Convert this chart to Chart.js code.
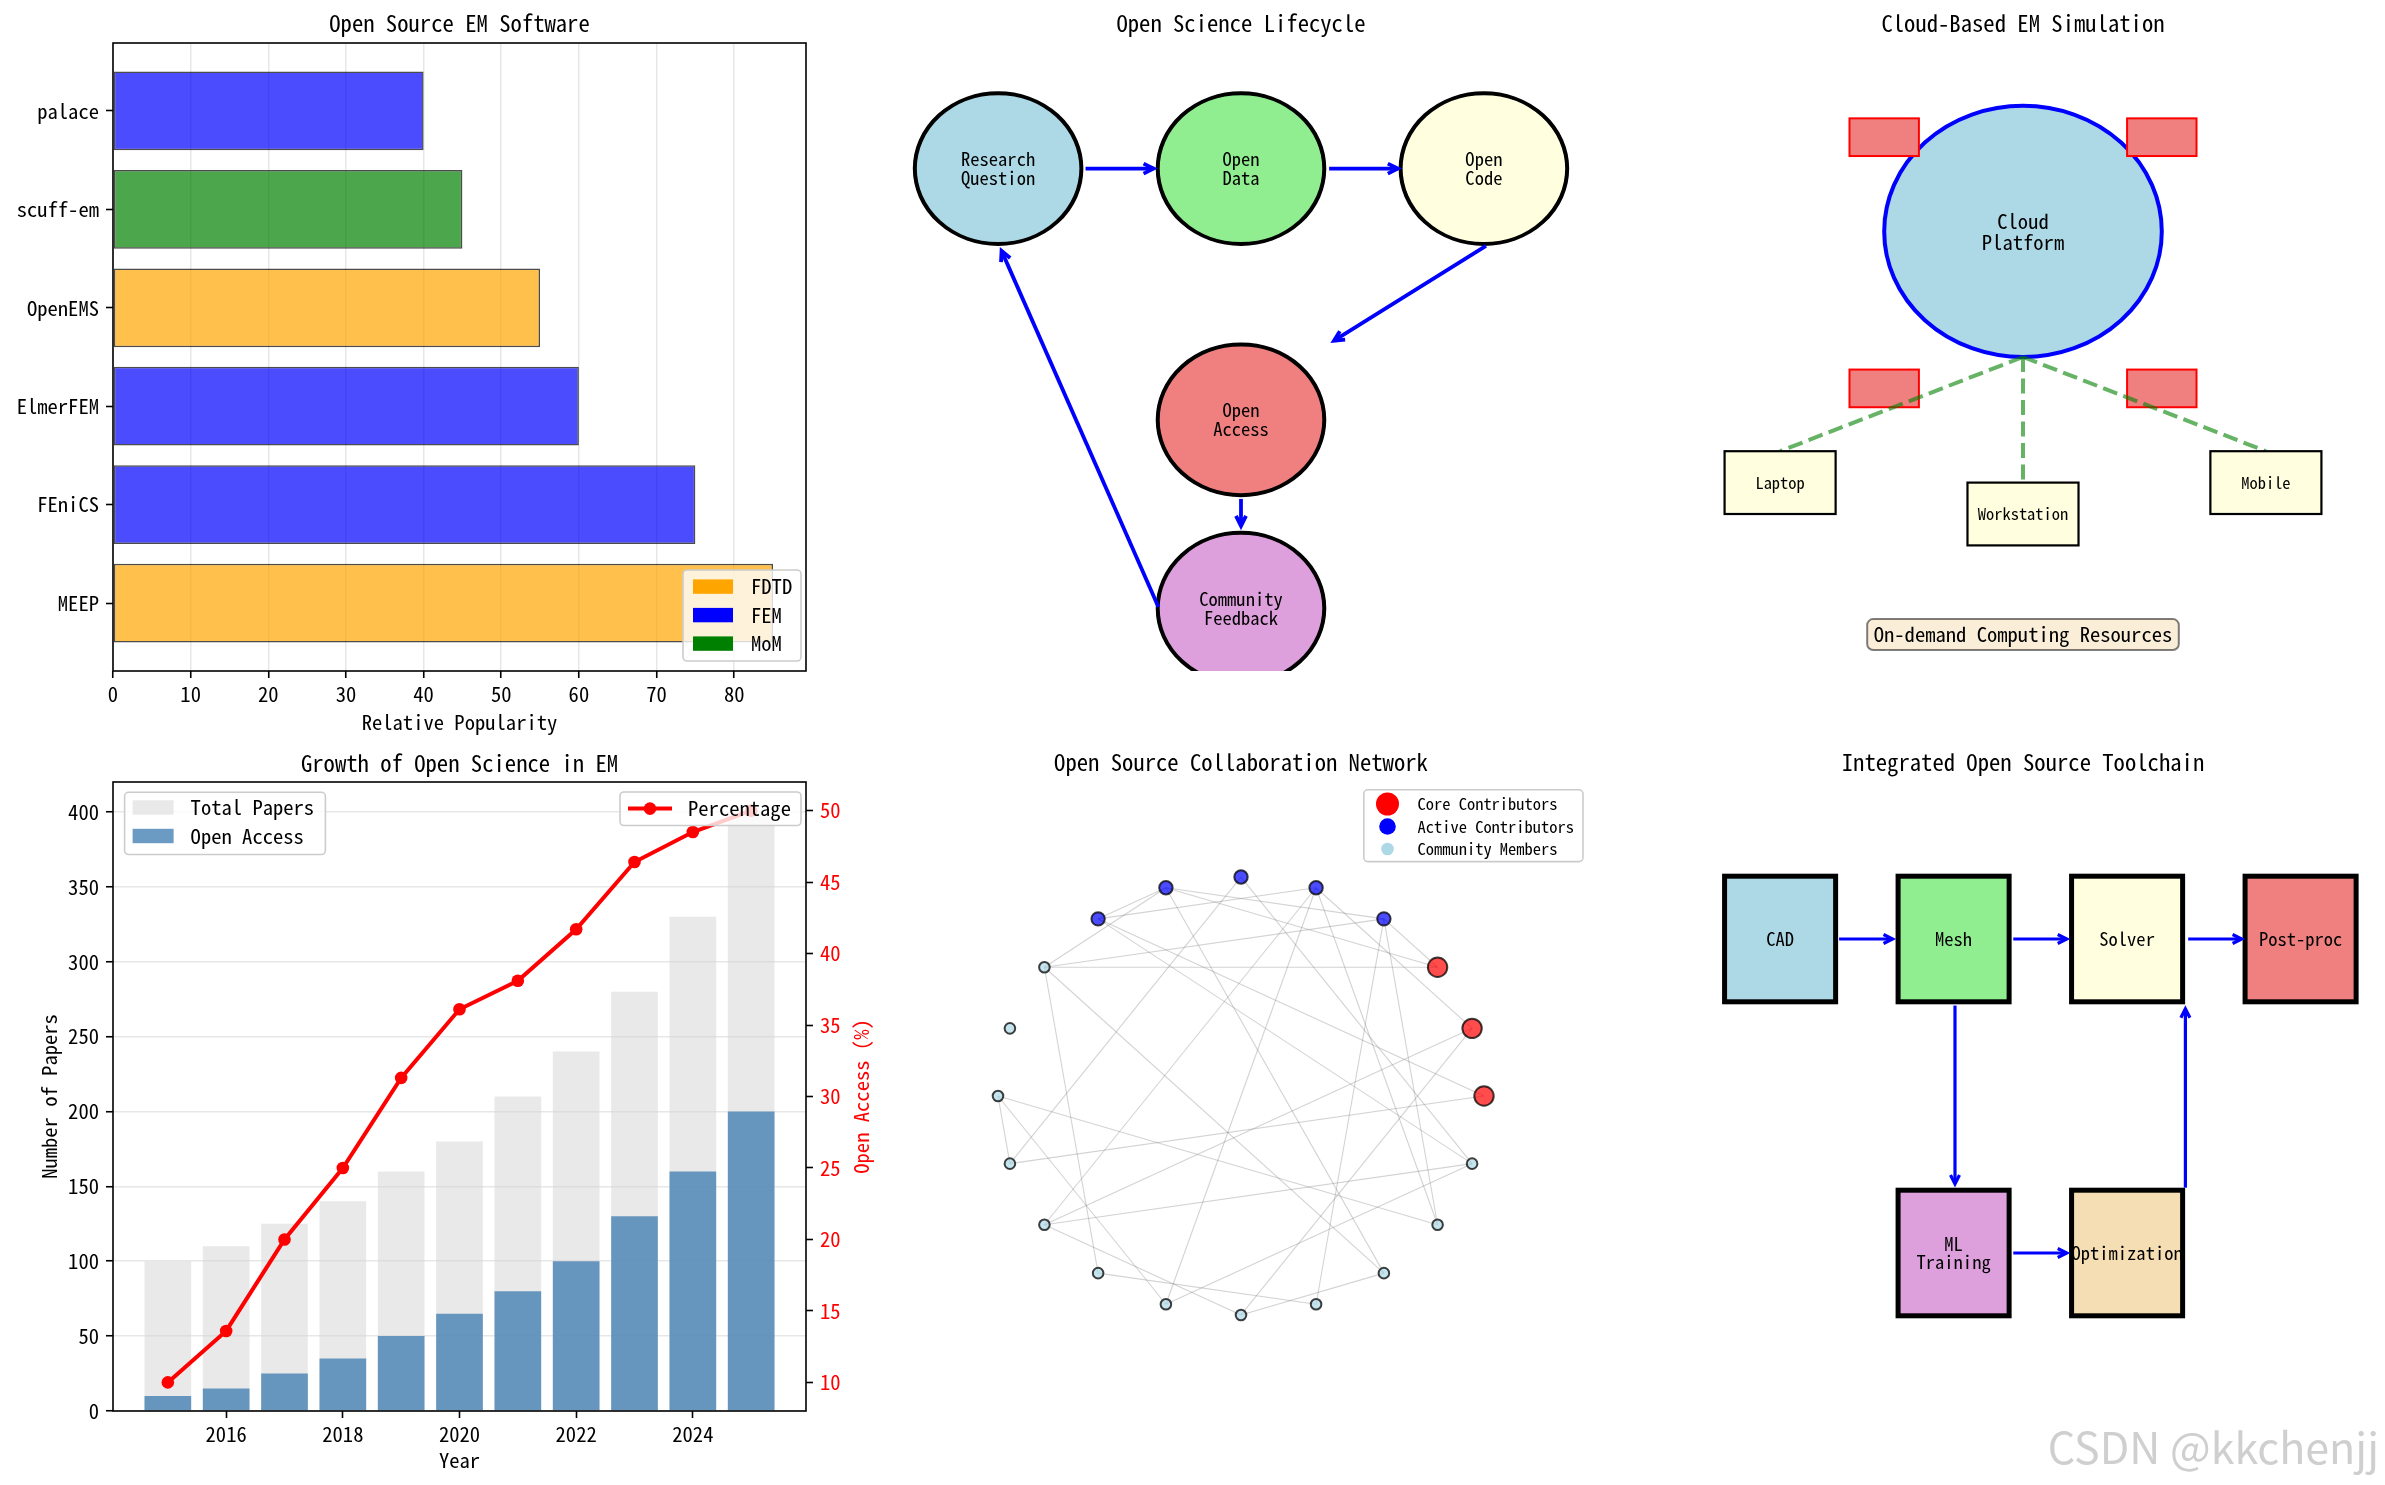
<!DOCTYPE html>
<html>
<head>
<meta charset="utf-8">
<script src="https://cdn.jsdelivr.net/npm/chart.js@4.4.1/dist/chart.umd.min.js"></script>
<style>
  html, body { margin: 0; padding: 0; background: #fff; }
  #page { position: relative; width: 2385px; height: 1485px; overflow: hidden; background: #fff; }
  canvas { position: absolute; }
  #wm { position: absolute; right: 6px; top: 1414px; font: 43px "Noto Sans CJK SC", "Noto Sans", sans-serif; color: #cfcfcf; }
</style>
</head>
<body>
<div id="page">
  <canvas id="cSoft"   style="left:0px;top:0px"      width="860" height="740"></canvas>
  <canvas id="cCycle"  style="left:860px;top:0px"    width="760" height="740"></canvas>
  <canvas id="cCloud"  style="left:1620px;top:0px"   width="765" height="740"></canvas>
  <canvas id="cGrowth" style="left:0px;top:740px"    width="900" height="745"></canvas>
  <canvas id="cNet"    style="left:860px;top:740px"  width="760" height="745"></canvas>
  <canvas id="cTools"  style="left:1620px;top:740px" width="765" height="745"></canvas>
  <div id="wm">CSDN @kkchenjj</div>
</div>
<script>
// ---------- data ----------
const SOFTWARE   = ['MEEP', 'FEniCS', 'ElmerFEM', 'OpenEMS', 'scuff-em', 'palace'];
const POPULARITY = [85, 75, 60, 55, 45, 40];
const SW_METHOD  = ['FDTD', 'FEM', 'FEM', 'FDTD', 'MoM', 'FEM'];
const METHODS    = ['FDTD', 'FEM', 'MoM'];
const POP_TICKS  = [0, 10, 20, 30, 40, 50, 60, 70, 80];

const YEARS        = [2015, 2016, 2017, 2018, 2019, 2020, 2021, 2022, 2023, 2024, 2025];
const TOTAL_PAPERS = [100, 110, 125, 140, 160, 180, 210, 240, 280, 330, 400];
const OPEN_ACCESS  = [10, 15, 25, 35, 50, 65, 80, 100, 130, 160, 200];
const OA_PERCENT   = [10.0, 13.6, 20.0, 25.0, 31.3, 36.1, 38.1, 41.7, 46.4, 48.5, 50.0];
const YEAR_TICKS   = [2016, 2018, 2020, 2022, 2024];
const PAPER_TICKS  = [0, 50, 100, 150, 200, 250, 300, 350, 400];
const PCT_TICKS    = [10, 15, 20, 25, 30, 35, 40, 45, 50];

const STAGES  = ['Research\nQuestion', 'Open\nData', 'Open\nCode', 'Open\nAccess', 'Community\nFeedback'];
const STAGE_X = [1.5, 5, 8.5, 5, 5];
const STAGE_Y = [8, 8, 8, 4, 1];
const STAGE_ARROWS = [[2.76, 8, 3.74, 8], [6.27, 8, 7.26, 8], [8.53, 6.77, 6.34, 5.26], [5, 2.74, 5, 2.31], [3.81, 1.02, 1.55, 6.69]];

const SERVER_X = [2.5, 6.5, 2.5, 6.5];
const SERVER_Y = [8.2, 8.2, 4.2, 4.2];
const DEVICES  = ['Laptop', 'Workstation', 'Mobile'];
const DEVICE_X = [1.5, 5, 8.5];
const DEVICE_Y = [3, 2.5, 3];

const ROLE_NAMES = ['Core Contributors', 'Active Contributors', 'Community Members'];
const NODE_X = [1, 0.951, 0.809, 0.588, 0.309, 0, -0.309, -0.588, -0.809, -0.951, -1, -0.951, -0.809, -0.588, -0.309, 0, 0.309, 0.588, 0.809, 0.951];
const NODE_Y = [0, 0.309, 0.588, 0.809, 0.951, 1, 0.951, 0.809, 0.588, 0.309, 0, -0.309, -0.588, -0.809, -0.951, -1, -0.951, -0.809, -0.588, -0.309];
const NODE_ROLE = [0, 0, 0, 1, 1, 1, 1, 1, 2, 2, 2, 2, 2, 2, 2, 2, 2, 2, 2, 2];
const EDGES = [[7, 6], [8, 6], [7, 4], [7, 0], [7, 19], [6, 2], [6, 3], [6, 17], [5, 11], [5, 19], [8, 2], [8, 3],
               [8, 17], [8, 13], [4, 12], [4, 14], [4, 18], [4, 1], [3, 2], [3, 18], [3, 16], [12, 1], [12, 19], [12, 15],
               [11, 10], [11, 0], [13, 16], [10, 14], [10, 18], [15, 1], [15, 17], [19, 14]];

const TOOLS  = ['CAD', 'Mesh', 'Solver', 'Post-proc', 'ML\nTraining', 'Optimization'];
const TOOL_X = [1.5, 4, 6.5, 9, 4, 6.5];
const TOOL_Y = [7.5, 7.5, 7.5, 7.5, 2.5, 2.5];
const TOOL_ARROWS = [[2.35, 7.5, 3.12, 7.5], [4.86, 7.5, 5.63, 7.5], [7.38, 7.5, 8.15, 7.5], [4.02, 6.44, 4.02, 3.6], [4.86, 2.5, 5.63, 2.5], [7.34, 3.54, 7.34, 6.39]];

// ---------- styles ----------
const METHOD_FILL  = { FDTD: 'rgba(255,165,0,0.7)', FEM: 'rgba(0,0,255,0.7)', MoM: 'rgba(0,128,0,0.7)' };
const METHOD_SOLID = { FDTD: 'orange', FEM: 'blue', MoM: 'green' };
const STAGE_COLORS = ['#ADD8E6', '#90EE90', '#FFFFE0', '#F08080', '#DDA0DD'];
const TOOL_COLORS  = ['#ADD8E6', '#90EE90', '#FFFFE0', '#F08080', '#DDA0DD', '#F5DEB3'];
const ROLE_FILL    = ['rgba(255,0,0,0.7)', 'rgba(0,0,255,0.7)', 'rgba(173,216,230,0.7)'];
const ROLE_SOLID   = ['red', 'blue', 'lightblue'];
const ROLE_RADIUS  = [9.7, 6.7, 5.3];

const FONT = "'Noto Sans Mono CJK SC','Noto Sans Mono CJK JP','DejaVu Sans Mono',monospace";
Chart.defaults.font.family = FONT;
Chart.defaults.color = '#000';

const mctx = document.createElement('canvas').getContext('2d');
mctx.font = '100px ' + FONT;
const EM_ADV = mctx.measureText('0123456789').width / 1000;
// matplotlib points -> px size giving the same half-width advance as the original font
function pt(p) { return +(p * 1.03 / EM_ADV).toFixed(2); }

function $(id) { return document.getElementById(id); }

function label(ctx, text, x, y, size, color, lh, align) {
  ctx.font = size + 'px ' + FONT;
  ctx.fillStyle = color || '#000';
  ctx.textAlign = align || 'center';
  ctx.textBaseline = 'middle';
  const lines = text.split('\n');
  const h = lh || size * 1.1;
  lines.forEach((s, i) => ctx.fillText(s, x, y + (i - (lines.length - 1) / 2) * h));
}

function roundRect(ctx, x, y, w, h, r) {
  ctx.beginPath();
  ctx.moveTo(x + r, y);
  ctx.arcTo(x + w, y, x + w, y + h, r);
  ctx.arcTo(x + w, y + h, x, y + h, r);
  ctx.arcTo(x, y + h, x, y, r);
  ctx.arcTo(x, y, x + w, y, r);
  ctx.closePath();
}

function arrow(ctx, x1, y1, x2, y2, color, lw, hl, hw) {
  const a = Math.atan2(y2 - y1, x2 - x1);
  const c = Math.cos(a), s = Math.sin(a);
  ctx.strokeStyle = color; ctx.lineWidth = lw; ctx.lineCap = 'butt'; ctx.lineJoin = 'miter';
  ctx.beginPath(); ctx.moveTo(x1, y1); ctx.lineTo(x2, y2); ctx.stroke();
  ctx.beginPath();
  ctx.moveTo(x2 - hl * c + hw * s, y2 - hl * s - hw * c);
  ctx.lineTo(x2, y2);
  ctx.lineTo(x2 - hl * c - hw * s, y2 - hl * s + hw * c);
  ctx.stroke();
}

// ---------- plugins ----------
const panelTitle = {
  id: 'panelTitle',
  afterDraw(chart, args, o) {
    if (!o || !o.text) return;
    const { ctx, chartArea: a } = chart;
    ctx.save();
    label(ctx, o.text, (a.left + a.right) / 2, o.y, pt(11));
    ctx.restore();
  }
};

const frame = {
  id: 'frame',
  afterDraw(chart, args, o) {
    if (!o || !o.on) return;
    const { ctx, chartArea: a } = chart;
    ctx.save();
    ctx.strokeStyle = '#000'; ctx.lineWidth = 1.6;
    ctx.strokeRect(a.left, a.top, a.width, a.height);
    if (o.extra) o.extra(ctx, a);
    ctx.restore();
  }
};

const boxLegend = {
  id: 'boxLegend',
  afterDraw(chart, args, o) {
    if (!o || !o.boxes) return;
    const ctx = chart.ctx;
    o.boxes.forEach(b => {
      ctx.save();
      roundRect(ctx, b.x, b.y, b.w, b.h, 4);
      ctx.fillStyle = 'rgba(255,255,255,0.8)'; ctx.fill();
      ctx.lineWidth = 1.6; ctx.strokeStyle = '#cccccc'; ctx.stroke();
      const size = pt(b.pt || 10);
      b.items.forEach((it, i) => {
        const cy = b.y + b.first + i * b.row;
        const hx = b.x + b.hx;
        if (it.kind === 'patch') {
          ctx.fillStyle = it.color;
          ctx.fillRect(hx, cy - 7.2, b.hw, 14.4);
        } else if (it.kind === 'line') {
          ctx.strokeStyle = it.color; ctx.lineWidth = 4;
          ctx.beginPath(); ctx.moveTo(hx, cy); ctx.lineTo(hx + b.hw, cy); ctx.stroke();
          ctx.fillStyle = it.color;
          ctx.beginPath(); ctx.arc(hx + b.hw / 2, cy, 6.3, 0, Math.PI * 2); ctx.fill();
        } else {
          ctx.fillStyle = it.color;
          ctx.beginPath(); ctx.arc(hx + b.hw / 2, cy, it.r, 0, Math.PI * 2); ctx.fill();
        }
        label(ctx, it.text, b.x + b.tx, cy, size, '#000', null, 'left');
      });
      ctx.restore();
    });
  }
};

const diagram = {
  id: 'diagram',
  afterDatasetsDraw(chart, args, o) {
    if (!o || !o.draw) return;
    const { ctx, chartArea: a, scales } = chart;
    const X = v => scales.x.getPixelForValue(v);
    const Y = v => scales.y.getPixelForValue(v);
    ctx.save();
    ctx.beginPath(); ctx.rect(a.left, a.top, a.width, a.height); ctx.clip();
    o.draw(ctx, X, Y);
    ctx.restore();
  }
};

Chart.register(panelTitle, frame, boxLegend, diagram);

const TICK_FONT = { size: pt(10) };
const base = {
  responsive: false, animation: false, devicePixelRatio: 1,
  plugins: { legend: { display: false }, tooltip: { enabled: false } }
};
function opts(extra) {
  return Object.assign({}, base, extra, { plugins: Object.assign({}, base.plugins, extra.plugins) });
}
function hiddenAxes(xmin, xmax, ymin, ymax) {
  return {
    x: { type: 'linear', display: false, min: xmin, max: xmax },
    y: { type: 'linear', display: false, min: ymin, max: ymax }
  };
}

// ---------- 1. Open Source EM Software ----------
new Chart($('cSoft'), {
  type: 'bar',
  data: {
    datasets: [{
      data: SOFTWARE.map((s, i) => ({ x: POPULARITY[i], y: i })),
      backgroundColor: SW_METHOD.map(m => METHOD_FILL[m]),
      borderColor: 'rgba(0,0,0,0.7)', borderWidth: 1.5, borderSkipped: false,
      categoryPercentage: 1, barPercentage: 0.8
    }]
  },
  options: opts({
    indexAxis: 'y',
    layout: { padding: { left: 0, top: 43, right: 54, bottom: 0 } },
    scales: {
      x: {
        type: 'linear', min: 0, max: 89.25, z: 1,
        afterFit: s => { s.height = 69; },
        afterBuildTicks: s => { s.ticks = POP_TICKS.map(v => ({ value: v })); },
        grid: { color: 'rgba(176,176,176,0.3)', lineWidth: 1.5, tickColor: '#000', tickLength: 7, tickWidth: 1.6 },
        border: { display: false },
        ticks: { font: TICK_FONT, padding: 4, color: '#000', maxRotation: 0 },
        title: { display: true, text: 'Relative Popularity', font: { size: pt(10) }, padding: { top: 0, bottom: 18 - 0.6 * pt(10) } }
      },
      y: {
        type: 'linear', min: -0.69, max: 5.69, offset: false,
        afterFit: s => { s.width = 113; },
        afterBuildTicks: s => { s.ticks = SOFTWARE.map((n, i) => ({ value: i })); },
        grid: { offset: false, drawOnChartArea: false, tickColor: '#000', tickLength: 7, tickWidth: 1.6 },
        border: { display: false },
        ticks: { font: TICK_FONT, padding: 7, color: '#000', callback: v => SOFTWARE[v] }
      }
    },
    plugins: {
      panelTitle: { text: 'Open Source EM Software', y: 23.6 },
      frame: { on: true },
      boxLegend: { boxes: [{
        x: 683, y: 570, w: 118, h: 91, first: 16.6, row: 28.5, hx: 10, hw: 40, tx: 68,
        items: METHODS.map(m => ({ kind: 'patch', color: METHOD_SOLID[m], text: m }))
      }] }
    }
  })
});

// ---------- 2. Growth of Open Science in EM ----------
new Chart($('cGrowth'), {
  type: 'bar',
  data: {
    datasets: [
      {
        type: 'line', label: 'Percentage', yAxisID: 'y2',
        data: YEARS.map((x, i) => ({ x, y: OA_PERCENT[i] })),
        borderColor: 'red', backgroundColor: 'red', borderWidth: 4, tension: 0,
        pointRadius: 6.3, pointBorderWidth: 0, pointBackgroundColor: 'red', order: 0
      },
      {
        label: 'Open Access', data: YEARS.map((x, i) => ({ x, y: OPEN_ACCESS[i] })),
        backgroundColor: 'rgba(70,130,180,0.8)', grouped: false,
        categoryPercentage: 1, barPercentage: 0.8, order: 1
      },
      {
        label: 'Total Papers', data: YEARS.map((x, i) => ({ x, y: TOTAL_PAPERS[i] })),
        backgroundColor: 'rgba(211,211,211,0.5)', grouped: false,
        categoryPercentage: 1, barPercentage: 0.8, order: 2
      }
    ]
  },
  options: opts({
    layout: { padding: { left: 0, top: 42, right: 0, bottom: 0 } },
    scales: {
      x: {
        type: 'linear', min: 2014.06, max: 2025.94, offset: false,
        afterFit: s => { s.height = 74; },
        afterBuildTicks: s => { s.ticks = YEAR_TICKS.map(v => ({ value: v })); },
        grid: { offset: false, drawOnChartArea: false, tickColor: '#000', tickLength: 7, tickWidth: 1.6 },
        border: { display: false },
        ticks: { font: TICK_FONT, padding: 4, color: '#000', maxRotation: 0, callback: v => String(v) },
        title: { display: true, text: 'Year', font: { size: pt(10) }, padding: { top: 0, bottom: 25 - 0.6 * pt(10) } }
      },
      y: {
        type: 'linear', min: 0, max: 420, z: 1,
        afterFit: s => { s.width = 113; },
        afterBuildTicks: s => { s.ticks = PAPER_TICKS.map(v => ({ value: v })); },
        grid: { color: 'rgba(176,176,176,0.3)', lineWidth: 1.5, tickColor: '#000', tickLength: 7, tickWidth: 1.6 },
        border: { display: false },
        ticks: { font: TICK_FONT, padding: 7, color: '#000' },
        title: { display: true, text: 'Number of Papers', font: { size: pt(10) }, padding: { top: 49 - 0.6 * pt(10), bottom: 0 } }
      },
      y2: {
        type: 'linear', position: 'right', min: 8, max: 52,
        afterFit: s => { s.width = 94; },
        afterBuildTicks: s => { s.ticks = PCT_TICKS.map(v => ({ value: v })); },
        grid: { drawOnChartArea: false, tickColor: '#000', tickLength: 7, tickWidth: 1.6 },
        border: { display: false },
        ticks: { font: TICK_FONT, padding: 7, color: 'red' }
      }
    },
    plugins: {
      panelTitle: { text: 'Growth of Open Science in EM', y: 23 },
      frame: { on: true, extra: (ctx, a) => {
        ctx.save();
        ctx.translate(861, (a.top + a.bottom) / 2);
        ctx.rotate(-Math.PI / 2);
        label(ctx, 'Open Access (%)', 0, 0, pt(10), 'red');
        ctx.restore();
      } },
      boxLegend: { boxes: [
        { x: 124.6, y: 52.3, w: 200.8, h: 62.2, first: 15.2, row: 28.5, hx: 8, hw: 41, tx: 66,
          items: [{ kind: 'patch', color: 'rgba(211,211,211,0.5)', text: 'Total Papers' },
                  { kind: 'patch', color: 'rgba(70,130,180,0.8)', text: 'Open Access' }] },
        { x: 620, y: 52, w: 181, h: 33.5, first: 16.6, row: 28.5, hx: 8, hw: 44, tx: 68,
          items: [{ kind: 'line', color: 'red', text: 'Percentage' }] }
      ] }
    }
  })
});

// ---------- 3. Open Science Lifecycle ----------
new Chart($('cCycle'), {
  type: 'scatter',
  data: { datasets: [] },
  options: opts({
    layout: { padding: { left: 34, top: 43, right: 32, bottom: 69 } },
    scales: hiddenAxes(0, 10, 0, 10),
    plugins: {
      panelTitle: { text: 'Open Science Lifecycle', y: 23.6 },
      diagram: { draw: (ctx, X, Y) => {
        const r = 1.2;
        STAGES.forEach((s, i) => {
          const cx = X(STAGE_X[i]), cy = Y(STAGE_Y[i]);
          ctx.beginPath();
          ctx.ellipse(cx, cy, X(STAGE_X[i] + r) - cx, cy - Y(STAGE_Y[i] + r), 0, 0, Math.PI * 2);
          ctx.fillStyle = STAGE_COLORS[i]; ctx.fill();
          ctx.lineWidth = 4; ctx.strokeStyle = '#000'; ctx.stroke();
          label(ctx, s, cx, cy, pt(9), '#000', 18.75);
        });
        STAGE_ARROWS.forEach(a => arrow(ctx, X(a[0]), Y(a[1]), X(a[2]), Y(a[3]), 'blue', 3.8, 10, 5));
      } }
    }
  })
});

// ---------- 4. Cloud-Based EM Simulation ----------
new Chart($('cCloud'), {
  type: 'scatter',
  data: { datasets: [] },
  options: opts({
    layout: { padding: { left: 56, top: 43, right: 15, bottom: 69 } },
    scales: hiddenAxes(0, 10, 0, 10),
    plugins: {
      panelTitle: { text: 'Cloud-Based EM Simulation', y: 23.6 },
      diagram: { draw: (ctx, X, Y) => {
        const cx = X(5), cy = Y(7);
        ctx.beginPath();
        ctx.ellipse(cx, cy, X(7) - cx, cy - Y(9), 0, 0, Math.PI * 2);
        ctx.fillStyle = '#ADD8E6'; ctx.fill();
        ctx.lineWidth = 4; ctx.strokeStyle = 'blue'; ctx.stroke();
        label(ctx, 'Cloud\nPlatform', cx, cy, pt(10), '#000', 21.4);
        SERVER_X.forEach((sx, i) => {
          const x0 = X(sx), y0 = Y(SERVER_Y[i] + 0.6), w = X(sx + 1) - x0, h = Y(SERVER_Y[i]) - y0;
          ctx.fillStyle = '#F08080'; ctx.fillRect(x0, y0, w, h);
          ctx.lineWidth = 2; ctx.strokeStyle = 'red'; ctx.strokeRect(x0, y0, w, h);
        });
        ctx.save();
        ctx.setLineDash([15, 6.5]);
        ctx.strokeStyle = 'rgba(0,128,0,0.6)'; ctx.lineWidth = 4;
        DEVICE_X.forEach((dx, i) => {
          ctx.beginPath(); ctx.moveTo(X(5), Y(5)); ctx.lineTo(X(dx), Y(DEVICE_Y[i] + 0.5)); ctx.stroke();
        });
        ctx.restore();
        DEVICES.forEach((d, i) => {
          const x0 = X(DEVICE_X[i] - 0.8), y0 = Y(DEVICE_Y[i] + 0.5);
          const w = X(DEVICE_X[i] + 0.8) - x0, h = Y(DEVICE_Y[i] - 0.5) - y0;
          ctx.fillStyle = '#FFFFE0'; ctx.fillRect(x0, y0, w, h);
          ctx.lineWidth = 2.2; ctx.strokeStyle = '#000'; ctx.strokeRect(x0, y0, w, h);
          label(ctx, d, X(DEVICE_X[i]), Y(DEVICE_Y[i]), pt(8));
        });
        const txt = 'On-demand Computing Resources';
        const size = pt(10);
        ctx.font = size + 'px ' + FONT;
        const tw = ctx.measureText(txt).width;
        const bx = X(5), by = Y(0.58);
        roundRect(ctx, bx - tw / 2 - 6.5, by - 15.5, tw + 13, 31, 6);
        ctx.fillStyle = 'rgba(245,222,179,0.5)'; ctx.fill();
        ctx.lineWidth = 2; ctx.strokeStyle = 'rgba(0,0,0,0.5)'; ctx.stroke();
        label(ctx, txt, bx, by, size);
      } }
    }
  })
});

// ---------- 5. Open Source Collaboration Network ----------
new Chart($('cNet'), {
  type: 'scatter',
  data: {
    datasets: EDGES.map(([a, b]) => ({
      data: [{ x: NODE_X[a], y: NODE_Y[a] }, { x: NODE_X[b], y: NODE_Y[b] }],
      showLine: true, borderColor: 'rgba(128,128,128,0.35)', borderWidth: 1.1,
      pointRadius: 0, order: 2
    })).concat(ROLE_NAMES.map((name, r) => ({
      label: name,
      data: NODE_X.map((x, i) => ({ x, y: NODE_Y[i] })).filter((p, i) => NODE_ROLE[i] === r),
      pointRadius: ROLE_RADIUS[r], backgroundColor: ROLE_FILL[r],
      borderColor: 'rgba(0,0,0,0.75)', borderWidth: 2, order: 1
    })))
  },
  options: opts({
    layout: { padding: { left: 34, top: 42, right: 32, bottom: 75 } },
    scales: hiddenAxes(-1.428, 1.428, -1.434, 1.434),
    plugins: {
      panelTitle: { text: 'Open Source Collaboration Network', y: 22.4 },
      boxLegend: { boxes: [{
        x: 503.8, y: 49.8, w: 219.2, h: 71.8, first: 14.2, row: 22.5, hx: 7, hw: 33.4, tx: 53.7, pt: 8,
        items: ROLE_NAMES.map((n, r) => ({ kind: 'dot', color: ROLE_SOLID[r], r: [11.5, 8.3, 6.3][r], text: n }))
      }] }
    }
  })
});

// ---------- 6. Integrated Open Source Toolchain ----------
new Chart($('cTools'), {
  type: 'scatter',
  data: { datasets: [] },
  options: opts({
    layout: { padding: { left: 56, top: 42, right: 15, bottom: 75 } },
    scales: hiddenAxes(0, 10, 0, 10),
    plugins: {
      panelTitle: { text: 'Integrated Open Source Toolchain', y: 22.4 },
      diagram: { draw: (ctx, X, Y) => {
        TOOLS.forEach((t, i) => {
          const x0 = X(TOOL_X[i] - 0.8), y0 = Y(TOOL_Y[i] + 1);
          const w = X(TOOL_X[i] + 0.8) - x0, h = Y(TOOL_Y[i] - 1) - y0;
          ctx.fillStyle = TOOL_COLORS[i]; ctx.fillRect(x0, y0, w, h);
          ctx.lineWidth = 5; ctx.strokeStyle = '#000'; ctx.strokeRect(x0, y0, w, h);
          label(ctx, t, X(TOOL_X[i]), Y(TOOL_Y[i]), pt(9), '#000', 18.4);
        });
        TOOL_ARROWS.forEach(a => arrow(ctx, X(a[0]), Y(a[1]), X(a[2]), Y(a[3]), 'blue', 3.2, 9, 4.5));
      } }
    }
  })
});
</script>
</body>
</html>
